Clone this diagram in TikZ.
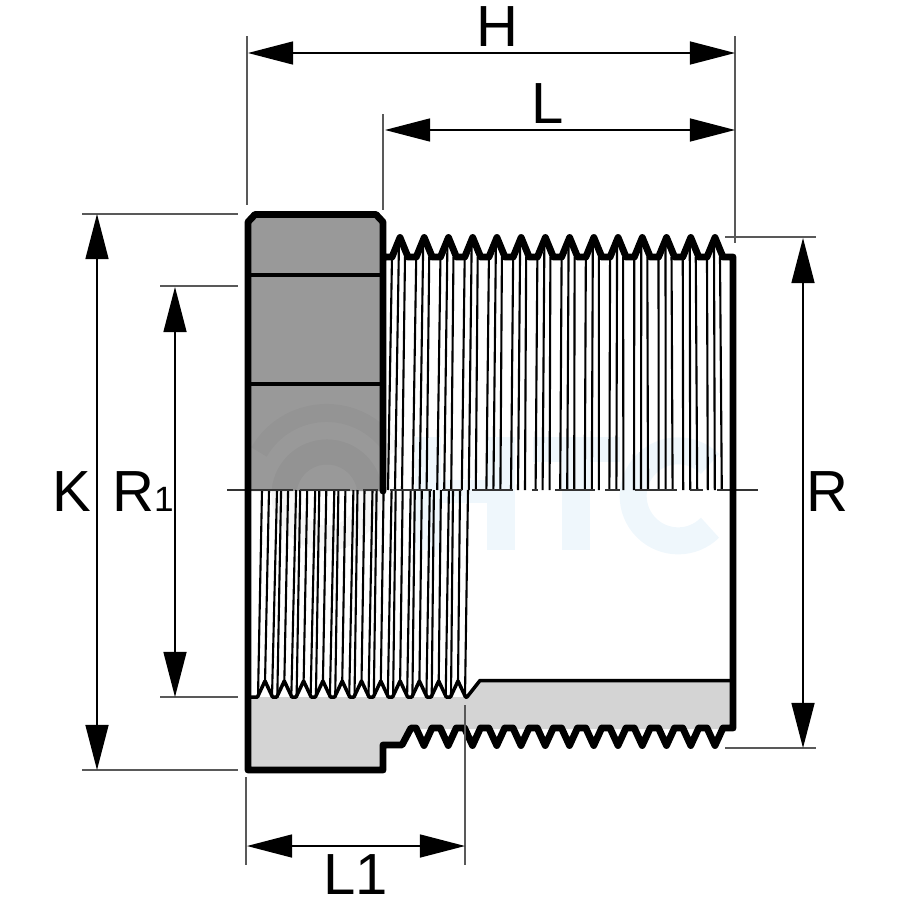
\documentclass[tikz,border=0pt]{standalone}
\usepackage{fontspec}
\setmainfont{Liberation Sans}
\usetikzlibrary{arrows.meta}
\definecolor{hexgrey}{HTML}{999999}
\definecolor{bodygrey}{HTML}{D4D4D4}
\definecolor{markblue}{HTML}{EFF7FC}
\tikzset{
    outline/.style={line width=1.95pt,line join=round,line cap=round},
    midline/.style={line width=1pt,line join=round},
    thread/.style={line width=0.6pt},
    extline/.style={line width=0.4pt,black!65},
    axisline/.style={line width=0.45pt,black!80},
    dimline/.style={line width=0.4pt,{Triangle[length=4.5mm,width=2.3mm]}-{Triangle[length=4.5mm,width=2.3mm]}},
    dimlabel/.style={inner sep=0pt,font=\fontsize{16.5}{16.5}\selectfont}
}
\begin{document}
\begin{tikzpicture}[x=0.01cm,y=-0.01cm]
    \useasboundingbox (0,0) rectangle (900,900);
    % body
    \fill[hexgrey] (248,222) -- (255,214) -- (376,214) -- (383,222) -- (383,491) -- (248,491) -- cycle;
    \fill[bodygrey] (248,697) -- (467,697) -- (480,680) -- (733,680) -- (733,729) -- (411,729) -- (402,745)
        -- (383,745) -- (383,770) -- (248,770) -- cycle;
    % watermark
    \fill[markblue] (415,437) rectangle (441,550);
    \fill[markblue] (487,437) rectangle (515,550);
    \fill[markblue] (441,480) rectangle (487,503);
    \fill[markblue] (533,437) rectangle (620,462);
    \fill[markblue] (562,462) rectangle (590,550);
    \draw[markblue,line width=0.27cm] (710,464) arc[start angle=45,end angle=315,radius=0.45cm];
    \draw[black,opacity=0.04,line width=0.25cm] (327,495) circle[radius=0.43cm];
    \draw[black,opacity=0.03,line width=0.18cm] (259,452) arc[start angle=150,end angle=30,radius=0.78cm];
    % male thread lines
    \foreach \k in {0,...,13} {
        \draw[thread] ({392+24.23*\k},257) -- ({388+24.6*\k},490);
        \draw[thread] ({399+24.23*\k},241) -- ({395+24.6*\k},490);
        \draw[thread] ({405+24.23*\k},257) -- ({402+24.6*\k},490);
    }
    % female thread lines
    \foreach \k in {0,...,10} {
        \draw[thread] ({258+19.3*\k},697) -- ({262+19.1*\k},490);
        \draw[thread] ({265+19.3*\k},683) -- ({269+19.1*\k},490);
        \draw[thread] ({272+19.3*\k},697) -- ({277+19.1*\k},490);
    }
    % axis
    \foreach \a/\b in {227/293,300/350,363/378,390/432,442/462,472/513,532/538,555/595,605/620,635/677,690/703,717/758}
        \draw[axisline] (\a,490) -- (\b,490);
    % outlines
    \draw[midline] (248,275) -- (383,275);
    \draw[midline] (248,384) -- (383,384);
    \draw[midline] (248,697) \foreach \k in {0,...,10} {
        -- ({257.5+19.3*\k},697) -- ({265+19.3*\k},681) -- ({272.5+19.3*\k},697)} -- (467,697) -- (480,680.5) -- (733,680.5);
    \draw[outline] (383,491) -- (383,222) -- (376,214.5) -- (255,214.5) -- (248,222) -- (248,770) -- (383,770) -- (383,745)
        -- (402,745) -- (411,728) -- (416,728) \foreach \k in {0,...,12} {
        -- ({416+24.25*\k},728) -- ({424+24.25*\k},745.5) -- ({432+24.25*\k},728)} -- (733,728) -- (733,257)
        \foreach \k in {13,12,...,0} {
        -- ({408+24.23*\k},257) -- ({400+24.23*\k},237.5) -- ({392+24.23*\k},257)} -- (383,257);
    % dimension ends
    \coordinate (Ha) at (248,53);      \coordinate (Hb) at (735,53);
    \coordinate (La) at (385,130);     \coordinate (Lb) at (735,130);
    \coordinate (Ka) at (97,214);      \coordinate (Kb) at (97,770);
    \coordinate (Rinnera) at (175,287); \coordinate (Rinnerb) at (175,697);
    \coordinate (Routera) at (803,238); \coordinate (Routerb) at (803,748);
    \coordinate (Lonea) at (247,846);  \coordinate (Loneb) at (465,846);
    % extension lines
    \coordinate (e1a) at (247,36);  \coordinate (e1b) at (247,205);
    \coordinate (e2a) at (735,36);  \coordinate (e2b) at (735,243);
    \coordinate (e3a) at (383,114); \coordinate (e3b) at (383,210);
    \coordinate (e4a) at (82,214);  \coordinate (e4b) at (238,214);
    \coordinate (e5a) at (82,770);  \coordinate (e5b) at (238,770);
    \coordinate (e6a) at (160,286); \coordinate (e6b) at (238,286);
    \coordinate (e7a) at (160,697); \coordinate (e7b) at (238,697);
    \coordinate (e8a) at (725,237); \coordinate (e8b) at (816,237);
    \coordinate (e9a) at (725,748); \coordinate (e9b) at (816,748);
    \coordinate (e10a) at (246,777); \coordinate (e10b) at (246,865);
    \coordinate (e11a) at (465,705); \coordinate (e11b) at (465,865);
    \foreach \n in {1,...,11}
        \draw[extline] (e\n a) -- (e\n b);
    \draw[dimline] (Ha) -- (Hb);
    \draw[dimline] (La) -- (Lb);
    \draw[dimline] (Ka) -- (Kb);
    \draw[dimline] (Rinnera) -- (Rinnerb);
    \draw[dimline] (Routera) -- (Routerb);
    \draw[dimline] (Lonea) -- (Loneb);
    % labels
    \node[dimlabel] (Hlabel) at (497,27) {H};
    \node[dimlabel] (Llabel) at (548,104) {L};
    \node[dimlabel] (Klabel) at (72,492) {K};
    \node[dimlabel] (Rinnerlabel) at (143,492) {R{\fontsize{10}{10}\selectfont 1}};
    \node[dimlabel] (Routerlabel) at (827,492) {R};
    \node[dimlabel] (Lonelabel) at (356,875) {L1};
\end{tikzpicture}
\end{document}
